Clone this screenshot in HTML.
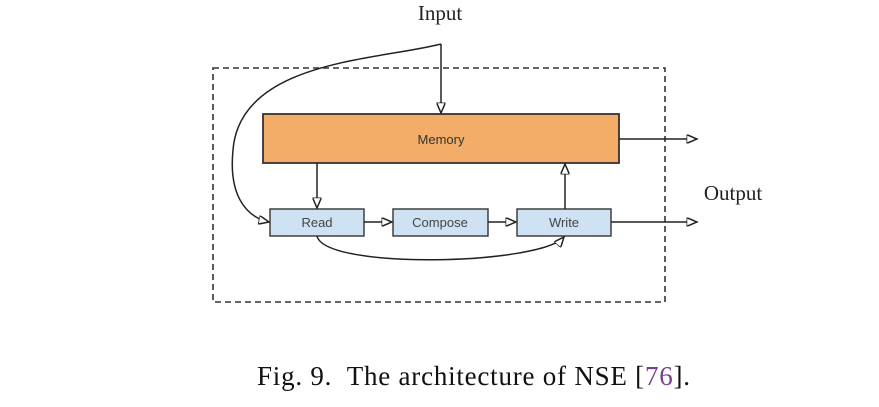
<!DOCTYPE html>
<html><head><style>
body{margin:0;width:879px;height:402px;background:#fff;overflow:hidden}
</style></head><body>
<svg width="879" height="402" xmlns="http://www.w3.org/2000/svg">
<defs><marker id="a" markerWidth="8" markerHeight="6" refX="7" refY="3" orient="auto"><path d="M0,0 L7,3 L0,6 Z" fill="#fff" stroke="#222" stroke-width="1"/></marker></defs>
<rect x="213" y="68" width="452" height="234" fill="none" stroke="#333" stroke-width="1.6" stroke-dasharray="6,4"/>
<rect x="263" y="114" width="356" height="49" fill="#f4ad69" stroke="#333" stroke-width="1.8"/>
<text x="441" y="144" font-family="Liberation Sans, sans-serif" font-size="13" text-anchor="middle" fill="#333">Memory</text>
<g fill="#cfe2f3" stroke="#333" stroke-width="1.4">
<rect x="270" y="209" width="94" height="27"/><rect x="393" y="209" width="95" height="27"/><rect x="517" y="209" width="94" height="27"/></g>
<g font-family="Liberation Sans, sans-serif" font-size="13" text-anchor="middle" fill="#444">
<text x="317" y="227">Read</text><text x="440" y="227">Compose</text><text x="564" y="227">Write</text></g>
<g fill="none" stroke="#222" stroke-width="1.5" marker-end="url(#a)">
<path d="M441,44 L441,113"/>
<path d="M441,44 C380,60 240,60 233,150 C228,200 250,218 269,222"/>
<path d="M317,163 L317,208"/>
<path d="M565,209 L565,164"/>
<path d="M364,222 L392,222"/>
<path d="M488,222 L516,222"/>
<path d="M619,139 L697,139"/>
<path d="M611,222 L697,222"/>
<path d="M317,236 C325,270 540,265 564,237"/>
</g>
<text x="440" y="20" font-family="Liberation Serif, serif" font-size="21" text-anchor="middle" fill="#222">Input</text>
<text x="733" y="200" font-family="Liberation Serif, serif" font-size="21" text-anchor="middle" fill="#222">Output</text>
<text x="257" y="385" font-family="Liberation Serif, serif" font-size="27" textLength="433" lengthAdjust="spacing" fill="#111" xml:space="preserve">Fig. 9.  The architecture of NSE [<tspan fill="#7a3f8c">76</tspan>].</text>
</svg>
</body></html>
